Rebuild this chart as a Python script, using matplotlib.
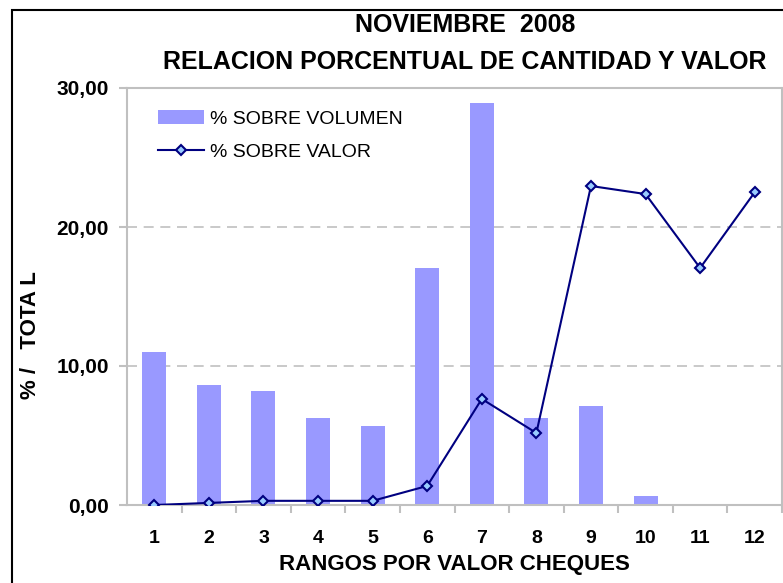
import matplotlib

matplotlib.use("Agg")
import matplotlib.pyplot as plt
from matplotlib.patches import Rectangle
from matplotlib.ticker import FixedLocator, FuncFormatter

plt.rcParams["font.family"] = ["Liberation Sans", "DejaVu Sans"]

# datos
rangos = ["1", "2", "3", "4", "5", "6", "7", "8", "9", "10", "11", "12"]
pct_volumen = [11.0, 8.63, 8.2, 6.26, 5.68, 17.05, 28.9, 6.26, 7.12, 0.65, 0.1, 0.0]
pct_valor = [0.0, 0.15, 0.3, 0.3, 0.3, 1.37, 7.63, 5.18, 22.95, 22.37, 17.05, 22.5]

W, H = 783, 583
fig = plt.figure(figsize=(W / 100, H / 100), dpi=100)
ax = fig.add_axes([127 / W, 1 - 505 / H, (782 - 127) / W, (505 - 88) / H])

pos = list(range(len(rangos)))
barras = ax.bar(pos, pct_volumen, width=0.44, color="#9999FF", zorder=2)
(linea,) = ax.plot(pos, pct_valor, color="#000080", lw=1.5, marker="D", ms=5,
                   mfc="#99CCFF", mec="#000080", mew=1.5, zorder=3)

ax.set_xlim(-0.5, len(rangos) - 0.5)
ax.set_ylim(0, 30)
ax.set_yticks([0, 10, 20, 30])
ax.yaxis.set_major_formatter(FuncFormatter(lambda v, p: f"{v:.2f}".replace(".", ",")))
ax.set_xticks(pos)
ax.set_xticklabels(rangos)
ax.xaxis.set_minor_locator(FixedLocator([p + 0.5 for p in pos]))
ax.tick_params(axis="x", which="major", length=0, pad=18, labelsize=14)
ax.tick_params(axis="x", which="minor", length=6, color="#C0C0C0", width=1.5)
ax.tick_params(axis="y", length=6, color="#C0C0C0", width=1.5, labelsize=15, pad=7)
for lab in ax.get_xticklabels() + ax.get_yticklabels():
    lab.set_fontweight("bold")

ax.grid(axis="y", color="#C0C0C0", ls=(0, (6, 4)), lw=1.2, zorder=0)
for s in ax.spines.values():
    s.set_color("#C0C0C0")
    s.set_linewidth(1.5)

ax.set_xlabel("RANGOS POR VALOR CHEQUES", fontsize=16, fontweight="bold", labelpad=5)
fig.text(31 / W, 1 - 335 / H, "% /   TOTA L", rotation=90, fontsize=16,
         fontweight="bold", ha="center", va="center")

fig.text(465 / W, 1 - 25 / H, "NOVIEMBRE  2008", fontsize=18, fontweight="bold",
         ha="center", va="center")
fig.text(465 / W, 1 - 62 / H, "RELACION PORCENTUAL DE CANTIDAD Y VALOR", fontsize=18,
         fontweight="bold", ha="center", va="center")

ax.legend([barras, linea], ["% SOBRE VOLUMEN", "% SOBRE VALOR"], loc="upper left",
          bbox_to_anchor=(0.035, 0.966), frameon=False, fontsize=14,
          handlelength=2.4, handletextpad=0.3, labelspacing=0.8, borderaxespad=0)

# marco exterior del gráfico
fig.patches.append(Rectangle((12 / W, -0.1), 1.2, 1 - 10 / H + 0.1, transform=fig.transFigure,
                             fill=False, edgecolor="black", lw=1.5))

fig.savefig("out.png", dpi=100)
plt.close(fig)
